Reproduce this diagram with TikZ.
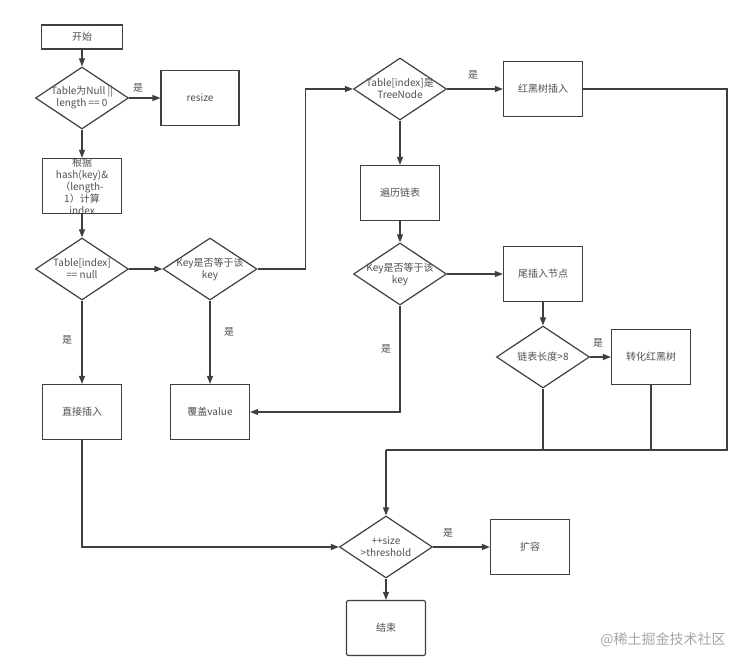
\documentclass[tikz,border=0pt]{standalone}
\usepackage{fontspec}
\setmainfont{Noto Sans CJK SC}
\usetikzlibrary{shapes.geometric,arrows.meta}

\definecolor{linegray}{HTML}{3F3F3F}
\definecolor{textgray}{HTML}{505050}

\begin{document}
\begin{tikzpicture}[x=1pt,y=-1pt,
        font=\fontsize{10}{12}\selectfont,
        every node/.style={text=textgray},
        box/.style={rectangle, draw=linegray, line width=1.2pt, minimum width=79pt, minimum height=55pt, inner sep=0pt, align=center},
        dec/.style={diamond, draw=linegray, line width=1.2pt, aspect=1.5, minimum width=93pt, minimum height=62pt, inner sep=0pt},
        txt/.style={align=center, inner sep=0pt},
        yes/.style={font=\fontsize{10}{12}\selectfont},
        line/.style={draw=linegray, line width=1.2pt},
        arr/.style={line, -{Triangle[length=8pt,width=6pt]}}]
        \fill[white] (0,0) rectangle (752,668);
        \useasboundingbox (0,0) rectangle (752,668);

        % left column
        \node[box, minimum width=81pt, minimum height=24pt] (start) at (82,37) {开始};
        \node[dec, label={[txt]center:{Table为Null ||\\length == 0}}] (d1) at (82,98) {};
        \node[box, minimum width=78pt] (resize) at (200,98) {resize};
        \node[box, label={[txt]center:{根据\\hash(key)\&\\（length-\\1）计算\\index}}] (hash) at (82,186) {};
        \node[dec, label={[txt]center:{Table[index]\\== null}}] (d2) at (82,269) {};
        \node[box] (direct) at (82,412) {直接插入};

        % second column
        \node[dec, minimum width=94pt, label={[txt]center:{Key是否等于该\\key}}] (dkey) at (210,269) {};
        \node[box] (cover) at (210,412) {覆盖value};

        % linked list / tree column
        \node[dec, label={[txt]center:{Table[index]是\\TreeNode}}] (dtree) at (400,89) {};
        \node[box] (rbt) at (543,89) {红黑树插入};
        \node[box] (trav) at (400,193) {遍历链表};
        \node[dec, label={[txt]center:{Key是否等于该\\key}}] (dkey2) at (400,274) {};
        \node[box] (tail) at (543,274) {尾插入节点};
        \node[dec, label={[txt]center:{链表长度>8}}] (dlen) at (543,357) {};
        \node[box] (conv) at (651,357) {转化红黑树};

        % bottom
        \node[dec, label={[txt]center:{++size\\>threshold}}] (dsize) at (386,547) {};
        \node[box] (expand) at (530,547) {扩容};
        \node[box, rounded corners=2pt] (end) at (386,628) {结束};

        \coordinate (join) at (386,450);
        \coordinate (corner) at (727,450);

        % connectors
        \draw[arr] (start) -- (d1);
        \draw[arr] (d1) -- (resize);
        \draw[arr] (d1) -- (hash);
        \draw[arr] (hash) -- (d2);
        \draw[arr] (d2) -- (dkey);
        \draw[arr] (d2) -- (direct);
        \draw[arr] (dkey) -- (cover);
        \draw[arr] (dkey.east) -- ++(48,0) |- (dtree.west);
        \draw[arr] (dtree) -- (rbt);
        \draw[arr] (dtree) -- (trav);
        \draw[arr] (trav) -- (dkey2);
        \draw[arr] (dkey2) -- (tail);
        \draw[arr] (dkey2.south) |- (cover.east);
        \draw[arr] (tail) -- (dlen);
        \draw[arr] (dlen) -- (conv);
        \draw[line] (rbt.east) -| (corner) -- (join);
        \draw[line] (dlen.south) -- (dlen.south |- join);
        \draw[line] (conv.south) -- (conv.south |- join);
        \draw[arr] (join) -- (dsize.north);
        \draw[arr] (direct.south) |- (dsize.west);
        \draw[arr] (dsize) -- (expand);
        \draw[arr] (dsize) -- (end);

        % yes labels
        \node[yes] (y1) at (138,88) {是};
        \node[yes] (y2) at (67,340) {是};
        \node[yes] (y3) at (229,332) {是};
        \node[yes] (y4) at (473,75) {是};
        \node[yes] (y5) at (386,349) {是};
        \node[yes] (y6) at (598,343) {是};
        \node[yes] (y7) at (448,533) {是};

        \node[text=black!35, font=\fontsize{14}{16}\selectfont] (mark) at (663,640) {@稀土掘金技术社区};
\end{tikzpicture}
\end{document}
